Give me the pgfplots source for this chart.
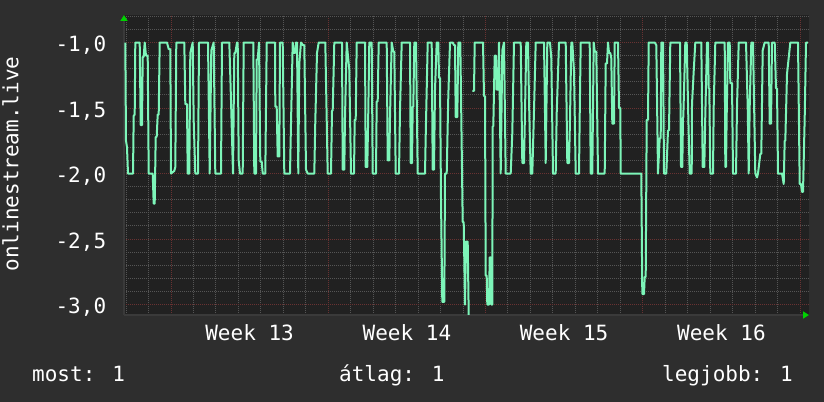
\documentclass[border=0pt]{standalone}
\usepackage{fontspec}
\setmainfont{DejaVu Sans Mono}
\usepackage{pgfplots}
\pgfplotsset{compat=1.18}
\usetikzlibrary{arrows.meta}
\definecolor{outerbg}{RGB}{46,46,46}
\definecolor{plotbg}{RGB}{33,33,33}
\definecolor{minorgrid}{RGB}{85,85,85}
\definecolor{majorgrid}{RGB}{105,50,50}
\definecolor{axisgray}{RGB}{58,58,58}
\definecolor{series}{RGB}{125,245,185}
\definecolor{arrowgreen}{RGB}{0,210,0}
\begin{document}
\fontsize{21bp}{25bp}\selectfont
\begin{tikzpicture}[font=\fontsize{21bp}{25bp}\selectfont]
\fill[outerbg] (0,0) rectangle (824bp,402bp);
\begin{axis}[
  at={(124bp,87bp)}, anchor=south west,
  scale only axis, width=685bp, height=300bp,
  xmin=124, xmax=809, ymin=-3.08, ymax=-0.79,
  axis background/.style={fill=plotbg},
  axis lines=left,
  axis line style={draw=axisgray, line width=1.5bp, -{Triangle[color=arrowgreen, length=6bp, width=7bp]}},
  tick style={draw=none},
  xtick={171,328.25,485.5,642.75,800},
  xticklabels={,,,,},
  minor xtick={126.07,148.54,193.46,215.93,238.39,260.86,283.32,305.79,350.71,373.18,395.64,418.11,440.57,463.04,507.96,530.43,552.89,575.36,597.82,620.29,665.21,687.68,710.14,732.61,755.07,777.54},
  extra x ticks={249.6,406.9,564.1,721.4},
  extra x tick labels={Week 13,Week 14,Week 15,Week 16},
  extra x tick style={grid=none, tick style={draw=none}},
  xticklabel style={anchor=base, inner sep=0pt, yshift=-23bp, text=white},
  ytick={-3,-2.5,-2,-1.5,-1},
  yticklabels={{-3,0},{-2,5},{-2,0},{-1,5},{-1,0}},
  minor ytick={-2.9,-2.8,-2.7,-2.6,-2.4,-2.3,-2.2,-2.1,-1.9,-1.8,-1.7,-1.6,-1.4,-1.3,-1.2,-1.1,-0.9,-0.8},
  yticklabel style={anchor=base east, inner sep=0pt, xshift=-15.5bp, yshift=-9bp, text=white},
  grid=both,
  minor grid style={draw=minorgrid, line width=1bp, dash pattern=on 1bp off 1bp},
  major grid style={draw=majorgrid, line width=1bp, dash pattern=on 1bp off 1bp},
  unbounded coords=jump,
]
\addplot[series, line width=2bp, line join=round] table {
x y
125.3 -1.0
126 -1.75
127 -1.8
128 -2.0
133 -2.0
133.7 -1.56
134.7 -1.55
135.3 -1.0
139.7 -1.0
140.7 -1.63
142 -1.63
142.7 -1.11
143.7 -1.11
144.7 -1.0
146 -1.1
147.7 -1.1
148.7 -2.0
152.7 -2.0
153.7 -2.23
154.7 -2.23
155.7 -1.72
156.7 -1.72
157.7 -1.55
158.7 -1.55
159.7 -1.0
167 -1.0
168.7 -1.05
170.3 -1.05
171 -2.0
174.3 -1.98
175.3 -1.95
176.3 -1.0
184.3 -1.0
185.3 -1.47
187 -1.47
187.7 -2.0
189.3 -2.0
190.3 -1.08
192.7 -1.0
193.7 -1.6
195.3 -2.0
198 -2.0
199 -1.0
208 -1.0
209.7 -2.0
211.3 -1.06
213.7 -1.0
215.3 -2.0
221 -2.0
222 -1.0
229.3 -1.0
231 -1.44
233 -2.0
234.3 -1.08
235.3 -1.08
237 -1.0
237.7 -1.0
238.7 -1.9
240 -2.0
242.7 -2.0
243.7 -1.0
253.3 -1.0
254.3 -2.0
256 -2.0
256.7 -1.13
257.7 -1.13
259 -1.0
260.3 -1.91
261.7 -1.91
262.7 -2.0
265.3 -2.0
266.7 -1.0
275 -1.0
275.3 -1.49
276.7 -1.49
277.7 -1.87
279.3 -1.87
280 -1.0
282.7 -1.0
284.3 -2.0
290 -2.0
291 -1.62
292.7 -1.0
293.7 -1.08
295 -1.08
296 -1.0
297 -1.0
298.3 -2.0
299.3 -1.16
301 -1.0
303 -1.02
304.3 -1.02
306 -1.97
307.7 -2.0
314.3 -2.0
315.3 -1.6
317 -1.08
318.7 -1.0
325.3 -1.0
327.7 -2.0
331 -2.0
332 -1.52
332.7 -1.52
334.3 -1.0
342 -1.0
342.7 -1.97
344.3 -1.97
345 -1.57
346.7 -1.0
349.3 -1.21
351 -2.0
354 -2.0
354.7 -1.59
355.7 -1.59
356.7 -1.0
365 -1.0
365.7 -1.95
367.3 -1.95
368.3 -1.52
369.3 -1.0
371.7 -1.0
372.7 -2.0
376 -2.0
376.7 -1.45
377.7 -1.45
378.7 -1.0
386.7 -1.0
387.7 -1.9
389.3 -1.9
390 -1.57
391.7 -1.0
393.3 -1.07
394.3 -1.07
395.7 -2.0
399 -2.0
400 -1.52
401.7 -1.0
410 -1.0
410.7 -1.92
412 -1.92
412.7 -1.49
413.3 -1.49
414.3 -1.0
416 -1.0
417.7 -2.0
425 -2.0
425.7 -1.72
427.7 -1.0
431.7 -1.0
432.7 -1.97
434 -1.97
435 -1.36
436.7 -1.0
438.3 -1.0
439 -1.27
440 -1.27
441 -2.2
442.3 -2.98
444.3 -2.98
445 -2.0
446.7 -2.0
448.3 -1.41
450 -1.0
452.7 -1.0
454 -1.02
455 -1.02
455.7 -1.57
457.3 -1.57
458.3 -1.0
460.3 -1.0
461.3 -1.57
462.7 -2.37
463.7 -2.37
465 -3.0
466 -2.52
467.7 -2.52
468.7 -3.08
470 nan
472.3 -1.37
474 -1.37
474.7 -1.0
483 -1.0
484 -1.41
485 -1.41
485.7 -2.78
486.7 -2.78
487.3 -3.0
489 -3.0
489.7 -2.64
490.7 -2.64
491.3 -3.0
492.3 -3.0
492.7 -1.64
493.3 -1.64
494.7 -1.1
496 -1.1
496.7 -1.36
498.3 -1.36
499 -1.0
500.7 -2.0
502.3 -1.06
504 -1.0
505.7 -2.0
510.7 -2.0
512.3 -1.69
514 -1.0
520.7 -1.0
522.3 -1.92
524 -1.92
525 -1.53
526.3 -1.0
528 -1.0
529 -1.44
530.7 -2.0
532.3 -2.0
534 -1.52
535.7 -1.0
544 -1.0
545.7 -1.92
547.3 -1.0
550 -1.0
551.3 -1.12
553 -2.0
555.7 -2.0
556.7 -1.54
559 -1.0
565.7 -1.0
567.3 -1.92
569 -1.92
570 -1.59
571.3 -1.0
572.3 -1.0
574 -1.22
575.7 -2.0
579 -2.0
579.7 -1.56
580.7 -1.0
589.7 -1.0
590.7 -2.0
592.3 -2.0
593.7 -1.0
594.7 -1.07
596.3 -1.07
598 -2.0
604.7 -2.0
605.7 -1.16
607 -1.16
608 -1.0
609 -1.08
610.3 -1.08
611.3 -1.12
612.3 -1.62
614 -1.62
614.7 -1.0
618 -1.0
619 -1.5
620.3 -1.5
620.7 -2.0
641.3 -2.0
642.3 -2.92
644 -2.92
644.7 -2.79
645.7 -2.79
646.7 -1.59
648 -1.59
648.7 -1.0
654.7 -1.0
656.3 -1.02
658 -2.0
659.7 -1.73
660.7 -1.73
661.3 -1.0
663 -1.0
664 -2.0
666.3 -2.0
668 -1.67
669 -1.67
670.3 -1.0
680 -1.0
681 -1.95
682.3 -1.95
683 -1.57
683.3 -1.57
685.3 -1.0
686.7 -1.0
688.3 -1.57
689.7 -2.0
691.7 -2.0
692 -1.47
693.7 -1.22
695.3 -1.0
701.3 -1.0
702.7 -1.95
704.3 -1.95
705.3 -1.55
707 -1.0
708 -1.0
708.7 -1.35
709.3 -1.35
710.3 -2.0
713 -2.0
713.7 -1.49
715.3 -1.0
724.7 -1.0
725.3 -1.95
726 -1.95
726.7 -1.55
728 -1.0
729.7 -1.0
730.3 -1.31
732 -1.31
733 -2.0
736 -2.0
737 -1.49
738.7 -1.0
746 -1.0
747.7 -1.49
748.7 -2.0
749.7 -1.49
751.3 -1.0
753 -1.0
755.3 -2.0
757 -2.03
758 -2.0
760.3 -1.85
761.3 -1.85
762.7 -1.06
764.7 -1.0
768.7 -1.0
769.7 -1.62
771 -1.62
772 -1.0
774.7 -1.0
776 -1.35
777 -1.35
778 -2.0
782 -2.0
783.7 -2.08
784.7 -1.75
785.3 -1.75
787 -1.24
790.3 -1.0
798 -1.0
799.7 -2.08
801 -2.08
802 -2.14
803 -2.14
804.7 -1.57
806 -1.0
808 -1.0
};
\end{axis}
\node[rotate=90, anchor=base, inner sep=0pt, text=white] at (18.3bp,238bp) {onlinestream.live};
\node[anchor=base west, inner sep=0pt, text=white] at (32bp,21bp) {most: 1};
\node[anchor=base west, inner sep=0pt, text=white] at (339bp,21bp) {átlag: 1};
\node[anchor=base west, inner sep=0pt, text=white] at (662bp,21bp) {legjobb: 1};
\pgfresetboundingbox
\path (0,0) rectangle (824bp,402bp);
\end{tikzpicture}
\end{document}
